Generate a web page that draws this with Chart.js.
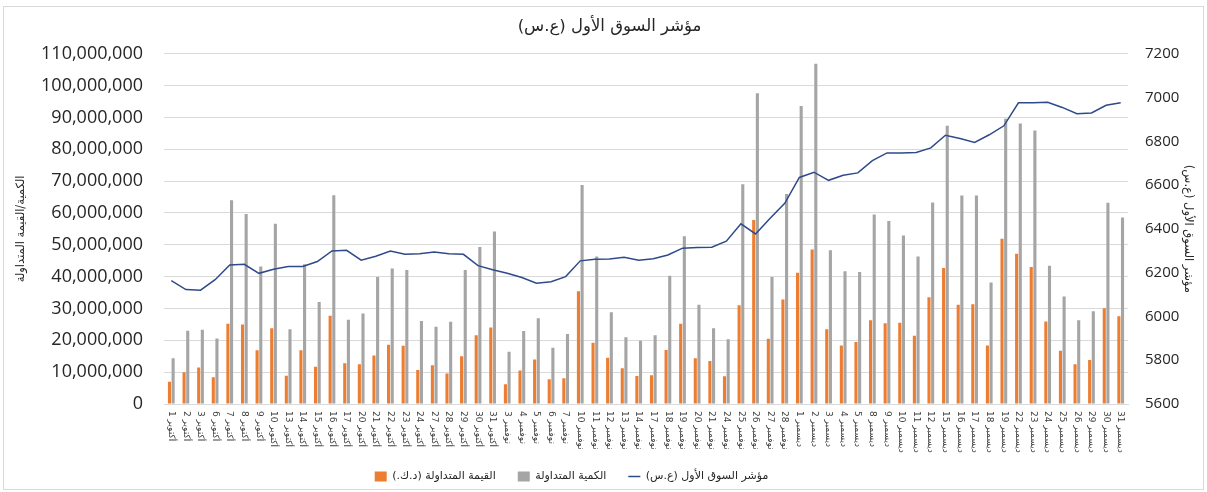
<!DOCTYPE html>
<html><head><meta charset="utf-8">
<script src="https://cdn.jsdelivr.net/npm/chart.js@4.4.1/dist/chart.umd.min.js"></script>
<style>
html,body{margin:0;padding:0;background:#fff;}
#wrap{position:absolute;left:0;top:0;width:1207px;height:492px;}
#frame{position:absolute;left:3px;top:6px;width:1201px;height:484px;border:1px solid #d9d9d9;box-sizing:border-box;pointer-events:none;}
</style></head><body>
<div id="wrap"><canvas id="c" dir="rtl" width="1207" height="492"></canvas><div id="frame"></div></div>
<script>
const categories = [
  "1 أكتوبر","2 أكتوبر","3 أكتوبر","6 أكتوبر","7 أكتوبر","8 أكتوبر","9 أكتوبر","10 أكتوبر","13 أكتوبر","14 أكتوبر","15 أكتوبر","16 أكتوبر","17 أكتوبر","20 أكتوبر","21 أكتوبر","22 أكتوبر","23 أكتوبر","24 أكتوبر","27 أكتوبر","28 أكتوبر","29 أكتوبر","30 أكتوبر","31 أكتوبر",
  "3 نوفمبر","4 نوفمبر","5 نوفمبر","6 نوفمبر","7 نوفمبر","10 نوفمبر","11 نوفمبر","12 نوفمبر","13 نوفمبر","14 نوفمبر","17 نوفمبر","18 نوفمبر","19 نوفمبر","20 نوفمبر","21 نوفمبر","24 نوفمبر","25 نوفمبر","26 نوفمبر","27 نوفمبر","28 نوفمبر",
  "1 ديسمبر","2 ديسمبر","3 ديسمبر","4 ديسمبر","5 ديسمبر","8 ديسمبر","9 ديسمبر","10 ديسمبر","11 ديسمبر","12 ديسمبر","15 ديسمبر","16 ديسمبر","17 ديسمبر","18 ديسمبر","19 ديسمبر","22 ديسمبر","23 ديسمبر","24 ديسمبر","25 ديسمبر","26 ديسمبر","29 ديسمبر","30 ديسمبر","31 ديسمبر"
];
const tradedValue = [
  7000000,10000000,11500000,8400000,25200000,25000000,16900000,23800000,8900000,16900000,11700000,27700000,12800000,12500000,15200000,18600000,18300000,10700000,12200000,9600000,15000000,21600000,24000000,
  6200000,10500000,14000000,7800000,8100000,35400000,19200000,14500000,11200000,8800000,9000000,17000000,25200000,14400000,13500000,8700000,31000000,57800000,20500000,32800000,
  41200000,48500000,23500000,18400000,19500000,26300000,25400000,25500000,21400000,33500000,42700000,31200000,31300000,18400000,51900000,47200000,43000000,25900000,16700000,12500000,13800000,30100000,27600000
];
const tradedVolume = [
  14400000,23000000,23300000,20600000,64000000,59700000,43200000,56600000,23500000,43900000,32000000,65600000,26500000,28400000,39900000,42600000,42100000,26100000,24300000,25800000,42100000,49300000,54200000,
  16400000,22900000,26900000,17700000,22000000,68800000,46300000,28800000,21000000,19900000,21600000,40300000,52700000,31200000,23800000,20300000,69000000,97600000,39900000,66000000,
  93600000,106900000,48300000,41700000,41500000,59500000,57500000,52900000,46300000,63300000,87400000,65500000,65500000,38200000,89600000,88100000,85900000,43400000,33800000,26300000,29100000,63200000,58600000
];
const marketIndex = [
  6164,6123,6120,6168,6235,6238,6197,6216,6228,6228,6251,6299,6302,6257,6275,6299,6284,6287,6295,6287,6284,6232,6213,
  6197,6178,6152,6159,6182,6254,6261,6263,6270,6257,6264,6281,6312,6315,6316,6344,6423,6377,6449,6517,
  6635,6659,6622,6645,6656,6712,6747,6747,6749,6770,6828,6813,6795,6830,6871,6976,6976,6979,6955,6926,6930,6965,6976
];
const seriesNames = ["القيمة المتداولة (د.ك.)", "الكمية المتداولة", "مؤشر السوق الأول (ع.س)"];
const chartTitle = "مؤشر السوق الأول (ع.س)";
const leftAxisTitle = "الكمية/القيمة المتداولة";
const rightAxisTitle = "مؤشر السوق الأول (ع.س)";

const ARFONT = "'DejaVu Sans', sans-serif";
const NUMFONT = "'Open Sans', 'DejaVu Sans', sans-serif";

const xLabelPlugin = {
  id: 'xlabels',
  afterDraw(chart) {
    const xs = chart.scales.x, ctx = chart.ctx;
    ctx.save();
    ctx.direction = 'ltr';
    ctx.font = "9px " + ARFONT;
    ctx.fillStyle = '#404040';
    ctx.textAlign = 'left';
    ctx.textBaseline = 'middle';
    categories.forEach((lab, i) => {
      const x = xs.getPixelForTick(i);
      ctx.save();
      ctx.translate(x, xs.top + 7);
      ctx.rotate(Math.PI / 2);
      ctx.fillText(lab, 0, 0);
      ctx.restore();
    });
    ctx.restore();
  }
};
const shiftPlugin = {
  id: 'shift',
  afterLayout(chart) {
    const l = chart.legend;
    if (l) { l.left -= 32; l.right -= 32; }
    const t = chart.titleBlock;
    if (t) { t.left += 6; t.right += 6; }
  }
};

new Chart(document.getElementById('c'), {
  data: {
    labels: categories,
    datasets: [
      { type: 'bar', label: seriesNames[0], data: tradedValue, backgroundColor: '#ED7D31', borderWidth: 0, yAxisID: 'y', order: 1, categoryPercentage: 0.5, barPercentage: 0.85 },
      { type: 'bar', label: seriesNames[1], data: tradedVolume, backgroundColor: '#A5A5A5', borderWidth: 0, yAxisID: 'y', order: 1, categoryPercentage: 0.5, barPercentage: 0.85 },
      { type: 'line', label: seriesNames[2], data: marketIndex, borderColor: '#2F4A8A', backgroundColor: '#2F4A8A', borderWidth: 1.5, pointRadius: 0, tension: 0, yAxisID: 'y1', order: 0 }
    ]
  },
  options: {
    responsive: false,
    devicePixelRatio: 1,
    animation: false,
    layout: { padding: 0 },
    plugins: {
      title: { display: true, text: chartTitle, color: '#262626', font: { family: ARFONT, size: 16.5, weight: 'normal' }, padding: { top: 17, bottom: 17 } },
      legend: {
        position: 'bottom',
        labels: {
          color: '#262626',
          font: { family: ARFONT, size: 11 },
          usePointStyle: true,
          pointStyleWidth: 12,
          boxHeight: 10,
          padding: 22,
          sort: (a, b) => a.datasetIndex - b.datasetIndex,
          generateLabels(chart) {
            const items = Chart.defaults.plugins.legend.labels.generateLabels(chart);
            items.forEach(it => {
              if (it.datasetIndex === 2) { it.pointStyle = 'line'; it.lineWidth = 1.5; it.strokeStyle = '#2F4A8A'; }
              else { it.pointStyle = 'rect'; it.lineWidth = 0; }
            });
            return items;
          }
        }
      },
      tooltip: { enabled: false }
    },
    scales: {
      x: {
        grid: { display: false },
        border: { display: true, color: '#d9d9d9' },
        ticks: { display: false },
        afterFit(s) { s.height = 45; }
      },
      y: {
        position: 'left',
        min: 0, max: 110000000,
        ticks: { stepSize: 10000000, color: '#262626', font: { family: NUMFONT, size: 18 }, padding: 21, callback: v => v.toLocaleString('en-US') },
        grid: { color: '#d9d9d9', drawTicks: false },
        border: { display: false },
        title: { display: true, text: leftAxisTitle, color: '#262626', font: { family: ARFONT, size: 11.5 }, padding: { top: 14 } },
        afterFit(s) { s.width = 164; }
      },
      y1: {
        position: 'right',
        min: 5600, max: 7200,
        ticks: { stepSize: 200, color: '#262626', font: { family: NUMFONT, size: 15 }, padding: 17, callback: v => String(v) },
        grid: { display: false, drawTicks: false },
        border: { display: false },
        title: { display: true, text: rightAxisTitle, color: '#262626', font: { family: ARFONT, size: 11.5 }, padding: { top: 12 } },
        afterFit(s) { s.width = 79; }
      }
    }
  },
  plugins: [xLabelPlugin, shiftPlugin]
});
</script>
</body></html>
